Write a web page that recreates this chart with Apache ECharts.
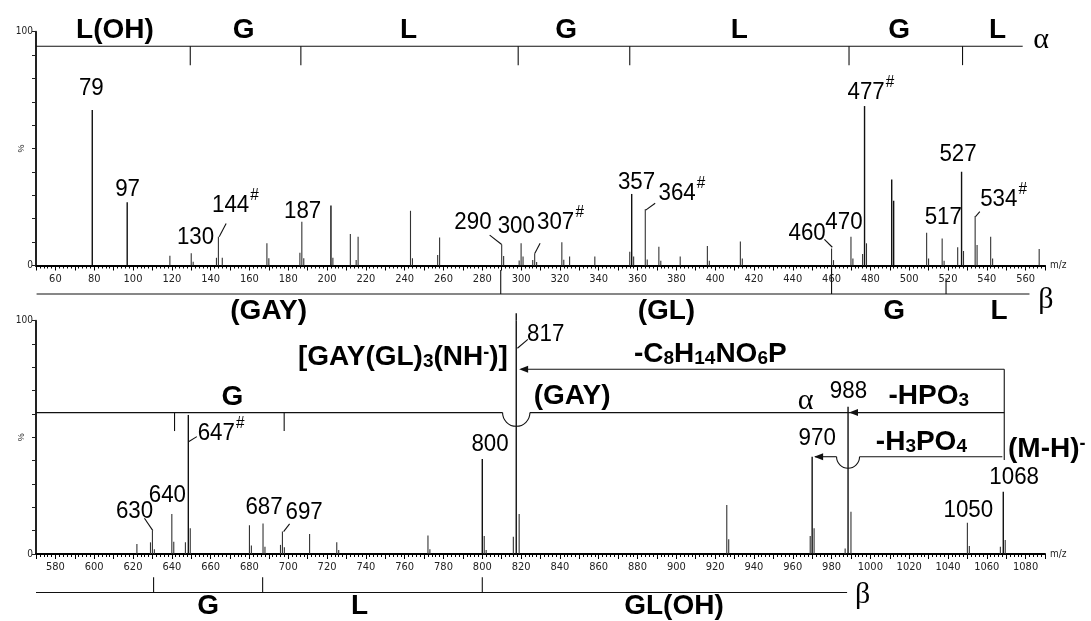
<!DOCTYPE html>
<html>
<head>
<meta charset="utf-8">
<script src="https://cdn.jsdelivr.net/npm/echarts@6/dist/echarts.min.js"></script>
<style>
html,body{margin:0;padding:0;background:#fff;}
#c{width:1091px;height:621px;}
</style>
</head>
<body>
<div id="c"></div>
<script>
// ---------- DATA ----------
// Upper panel (m/z 50-570): peak positions and relative intensities (%)
const topMz  = [79, 97, 119, 130, 131, 143, 144, 146, 169, 170, 186, 187, 188, 202, 203, 212, 215, 216,
                243, 244, 257, 258, 290, 291, 299, 300, 301, 306, 307, 308, 321, 322, 325, 338, 356, 357,
                358, 364, 365, 371, 372, 382, 396, 397, 413, 414, 460, 461, 470, 471, 476, 477, 478, 491,
                492, 509, 510, 517, 518, 525, 527, 528, 534, 535, 542, 543, 567];
const topInt = [66.5, 27.0, 4.2, 5.2, 1.6, 3.3, 12.3, 3.3, 9.5, 3.1, 5.5, 18.7, 3.1, 25.7, 3.3, 13.5, 2.3, 12.3,
                23.4, 3.1, 4.5, 12.0, 9.0, 4.1, 2.1, 9.5, 3.8, 2.3, 5.2, 1.5, 9.9, 2.5, 3.8, 3.8, 5.9, 30.6,
                3.8, 24.1, 2.6, 8.0, 2.0, 3.8, 8.3, 2.0, 10.3, 3.0, 7.3, 2.3, 12.3, 3.0, 4.9, 68.2, 9.5, 36.8,
                27.7, 14.0, 3.0, 11.6, 2.0, 7.8, 40.1, 6.2, 21.2, 8.8, 12.3, 3.0, 7.1];
// Lower panel (m/z 570-1090)
const botMz  = [622, 629, 630, 631, 640, 641, 647, 648.5, 649.5, 680, 681, 687, 688, 696, 697, 698, 711,
                725, 726, 772, 773, 800, 801, 802, 816, 817.5, 819, 926, 927, 969, 970, 971, 987, 988.5,
                990, 1050, 1051, 1067, 1068.5, 1069.5];
const botInt = [4.3, 5.0, 10.0, 2.0, 17.1, 5.3, 5.0, 59.6, 11.0, 12.3, 3.6, 13.1, 3.1, 3.9, 9.6, 2.9, 8.6,
                5.0, 1.7, 7.9, 2.0, 40.7, 7.7, 1.7, 7.4, 100, 17.1, 21.0, 6.3, 7.7, 41.7, 11.0, 2.4, 63.1,
                18.1, 13.4, 3.4, 3.1, 26.7, 6.0];
// Axis ranges
const topRange = [50, 570];
const botRange = [570, 1090];
// Peak labels [m/z of label anchor, % of label anchor, text, has '#']
const topPeakLabels = [
  [78.5, 75.6, '79', 0], [97.2, 32.6, '97', 0], [132.2, 12.0, '130', 0], [150.3, 25.9, '144', 1],
  [187.4, 23.1, '187', 0], [275.2, 18.5, '290', 0], [297.5, 16.6, '300', 0], [317.8, 18.4, '307', 1],
  [359.5, 35.5, '357', 0], [380.4, 30.9, '364', 1], [447.4, 13.8, '460', 0], [466.4, 18.4, '470', 0],
  [477.8, 73.9, '477', 1], [517.6, 20.6, '517', 0], [525.2, 47.7, '527', 0], [546.2, 28.3, '534', 1]
];
const botPeakLabels = [
  [832.7, 94.2, '817', 0], [662.9, 51.7, '647', 1], [620.8, 18.1, '630', 0], [637.7, 25.1, '640', 0],
  [687.5, 19.9, '687', 0], [708.2, 17.8, '697', 0], [804, 47.1, '800', 0], [972.6, 49.6, '970', 0],
  [988.7, 69.6, '988', 0], [1050.5, 18.9, '1050', 0], [1074.1, 32.8, '1068', 0]
];
// Sequence ladders
const topAlphaCuts = [129.5, 186.5, 298.5, 356, 469, 527.5];
const topAlphaRes  = [[90.7, 'L(OH)'], [157, 'G'], [242, 'L'], [323.2, 'G'], [412.4, 'L'], [494.8, 'G'], [545.6, 'L']];
const topBetaCuts  = [289.5, 460, 519];
const topBetaRes   = [[169.9, '(GAY)'], [374.9, '(GL)'], [492.2, 'G'], [546.3, 'L']];
const botAlphaCuts = [641.4, 697.9];
const botBetaCuts  = [630.6, 686.8, 800];
const botBetaRes   = [[658.7, 'G'], [736.8, 'L'], [898.8, 'GL(OH)']];

// ---------- CHART ----------
const FONT = "'Liberation Sans', Arial, Helvetica, sans-serif";
const NARROW = "'Liberation Sans Narrow', 'Arial Narrow', 'DejaVu Sans Condensed', sans-serif";
const chart = echarts.init(document.getElementById('c'), null, {renderer: 'canvas'});

function xAx(grid, range) {
  return {
    gridIndex: grid, type: 'value', min: range[0], max: range[1], interval: 10,
    axisLine: {onZero: false, lineStyle: {color: '#000', width: 2}},
    axisTick: {show: true, length: 5, lineStyle: {color: '#000', width: 1}},
    minorTick: {show: true, splitNumber: 5, length: 3, lineStyle: {color: '#000', width: 1}},
    splitLine: {show: false}, minorSplitLine: {show: false},
    axisLabel: {formatter: v => (v % 20 === 0 ? String(v) : ''), fontSize: 11, fontFamily: NARROW,
                color: '#222', margin: 8, hideOverlap: false, showMinLabel: true, showMaxLabel: true},
    name: 'm/z', nameLocation: 'end', nameGap: 5,
    nameTextStyle: {fontSize: 10, fontFamily: NARROW, color: '#222', padding: [6, 0, 0, 0]}
  };
}
function yAx(grid) {
  return {
    gridIndex: grid, type: 'value', min: 0, max: 100, interval: 10,
    axisLine: {show: true, lineStyle: {color: '#222', width: 2}},
    axisTick: {show: true, length: 4, lineStyle: {color: '#222'}},
    splitLine: {show: false},
    axisLabel: {formatter: v => (v === 0 || v === 100 ? String(v) : ''), fontSize: 10, fontFamily: NARROW,
                color: '#222', margin: 3},
    name: '%', nameLocation: 'middle', nameGap: 10, nameRotate: 90, nameMoveOverlap: false,
    nameTextStyle: {fontSize: 9, fontFamily: FONT, color: '#222'}
  };
}
function peakSeries(idx, mz, it) {
  return {
    type: 'custom', xAxisIndex: idx, yAxisIndex: idx, silent: true, animation: false,
    data: mz.map((m, i) => [m, it[i]]),
    renderItem: function (params, api) {
      const x = api.value(0), y = api.value(1);
      const a = api.coord([x, 0]), b = api.coord([x, y]);
      return {type: 'line', shape: {x1: a[0], y1: a[1], x2: b[0], y2: b[1]},
              style: {stroke: y > 25 ? '#111' : '#333', lineWidth: y > 25 ? 1.4 : 1.1}};
    }
  };
}

chart.setOption({
  animation: false,
  backgroundColor: '#fff',
  grid: [
    {left: 36, right: 46, top: 31.7, height: 233.8, containLabel: false, outerBoundsMode: 'none'},
    {left: 36, right: 46, top: 320.7, height: 233.3, containLabel: false, outerBoundsMode: 'none'}
  ],
  xAxis: [xAx(0, topRange), xAx(1, botRange)],
  yAxis: [yAx(0), yAx(1)],
  series: [peakSeries(0, topMz, topInt), peakSeries(1, botMz, botInt)]
});

// ---------- ANNOTATIONS (placed through the axes) ----------
const P = (g, m, v) => chart.convertToPixel({xAxisIndex: g, yAxisIndex: g}, [m, v]);
const G = [];
function seg(g, m1, v1, m2, v2, w) {
  const a = P(g, m1, v1), b = P(g, m2, v2);
  G.push({type: 'line', silent: true, z: 10, shape: {x1: a[0], y1: a[1], x2: b[0], y2: b[1]},
          style: {stroke: '#111', lineWidth: w || 1.1}});
}
function hopLine(g, m1, m2, v, hops, r) {
  const y = P(g, m1, v)[1];
  let x = P(g, m1, v)[0];
  const xe = P(g, m2, v)[0];
  const hx = hops.map(h => P(g, h, v)[0]).sort((a, b) => a - b);
  hx.forEach(c => {
    G.push({type: 'line', silent: true, z: 10, shape: {x1: x, y1: y, x2: c - r, y2: y}, style: {stroke: '#111', lineWidth: 1.1}});
    G.push({type: 'arc', silent: true, z: 10, shape: {cx: c, cy: y, r: r, startAngle: 0, endAngle: Math.PI, clockwise: true},
            style: {stroke: '#111', lineWidth: 1.1, fill: 'none'}});
    x = c + r;
  });
  G.push({type: 'line', silent: true, z: 10, shape: {x1: x, y1: y, x2: xe, y2: y}, style: {stroke: '#111', lineWidth: 1.1}});
}
function arrowLeft(g, m, v) {
  const p = P(g, m, v);
  G.push({type: 'polygon', silent: true, z: 11,
          shape: {points: [[p[0], p[1]], [p[0] + 9, p[1] - 3.5], [p[0] + 9, p[1] + 3.5]]},
          style: {fill: '#111'}});
}
function txt(p, text, opt) {
  G.push(Object.assign({type: 'text', silent: true, z: 12, x: p[0], y: p[1],
    style: Object.assign({text: text, fill: '#000', align: 'center', verticalAlign: 'middle',
                          textAlign: 'center', textVerticalAlign: 'middle'}, opt.style)}, opt.el || {}));
}
function num(g, m, v, t, sup) {
  const p = P(g, m, v);
  txt(p, t, {el: {scaleX: 0.93}, style: {fontSize: 24, fontFamily: FONT}});
  if (sup) txt([p[0] + 24, p[1] - 10], '#', {el: {scaleX: 0.9}, style: {fontSize: 17, fontFamily: FONT}});
}
function bold(g, m, v, t) {
  txt(P(g, m, v), t, {style: {fontSize: 28, fontWeight: 'bold', fontFamily: FONT}});
}
const RICH = {
  b: {fontSize: 28, fontWeight: 'bold', fontFamily: FONT, fill: '#000', lineHeight: 28},
  s: {fontSize: 19, fontWeight: 'bold', fontFamily: FONT, fill: '#000', lineHeight: 12, verticalAlign: 'bottom'},
  p: {fontSize: 18, fontWeight: 'bold', fontFamily: FONT, fill: '#000', lineHeight: 12, verticalAlign: 'top'}
};
function richTxt(g, m, v, t) {
  txt(P(g, m, v), t, {style: {rich: RICH, fontSize: 28, fontWeight: 'bold', fontFamily: FONT}});
}
function greek(g, m, v, t) {
  txt(P(g, m, v), t, {style: {fontSize: 30, fontFamily: "'Liberation Serif', 'DejaVu Serif', serif"}});
}

// Upper panel
seg(0, 50, 93.8, 558.5, 93.8);
topAlphaCuts.forEach(m => seg(0, m, 93.8, m, 85.7));
topAlphaRes.forEach(r => bold(0, r[0], 100.4, r[1]));
greek(0, 568, 96.4, 'α');
seg(0, 50.3, -12.2, 562, -12.2);
seg(0, topBetaCuts[0], -12.2, topBetaCuts[0], -1.9);
seg(0, topBetaCuts[1], -12.2, topBetaCuts[1], -0.5);
seg(0, topBetaCuts[2], -12.2, topBetaCuts[2], -5.5);
topBetaRes.forEach(r => bold(0, r[0], -19.6, r[1]));
greek(0, 570.5, -14.7, 'β');
seg(0, 144.4, 12.3, 148, 18.0);
seg(0, 283.8, 13.0, 290, 9.0);
seg(0, 307.1, 5.2, 309.8, 9.5);
seg(0, 364.2, 23.7, 369.1, 26.6);
seg(0, 456.3, 11.2, 460.4, 7.8);
seg(0, 534.2, 20.9, 536.4, 23.0);
topPeakLabels.forEach(l => num(0, l[0], l[1], l[2], l[3]));

// Lower panel
hopLine(1, 570, 1069, 60.6, [817.5], 13.7);
botAlphaCuts.forEach(m => seg(1, m, 60.6, m, 52.7));
arrowLeft(1, 989, 60.6);
seg(1, 817.5, 100, 817.5, 103.2, 1.4);
seg(1, 1069, 79.2, 820, 79.2);
arrowLeft(1, 819, 79.2);
seg(1, 1069, 79.2, 1069, 40.3);
hopLine(1, 971.5, 1068, 41.7, [988.5], 11.5);
arrowLeft(1, 971, 41.7);
seg(1, 818.1, 88.2, 823.5, 92.0);
seg(1, 648.6, 48.1, 652.9, 50.3);
seg(1, 630.2, 10.0, 625.9, 15.3);
seg(1, 697.6, 9.6, 700.7, 12.9);
seg(1, 570, -16.5, 988, -16.5);
botBetaCuts.forEach(m => seg(1, m, -16.5, m, -10.0));
botBetaRes.forEach(r => bold(1, r[0], -22.6, r[1]));
greek(1, 996, -17.5, 'β');
greek(1, 966.6, 65.6, 'α');
bold(1, 671.2, 67.1, 'G');
bold(1, 846.3, 67.5, '(GAY)');
richTxt(1, 759.1, 84.2, '{b|[GAY(GL)}{s|3}{b|(NH}{p|-}{b|)]}');
richTxt(1, 917.5, 85.7, '{b|-C}{s|8}{b|H}{s|14}{b|NO}{s|6}{b|P}');
richTxt(1, 1030.1, 67.7, '{b|-HPO}{s|3}');
richTxt(1, 1026.3, 47.8, '{b|-H}{s|3}{b|PO}{s|4}');
richTxt(1, 1090.9, 45.0, '{b|(M-H)}{p|-}');
botPeakLabels.forEach(l => num(1, l[0], l[1], l[2], l[3]));

chart.setOption({graphic: {elements: G}});
</script>
</body>
</html>
